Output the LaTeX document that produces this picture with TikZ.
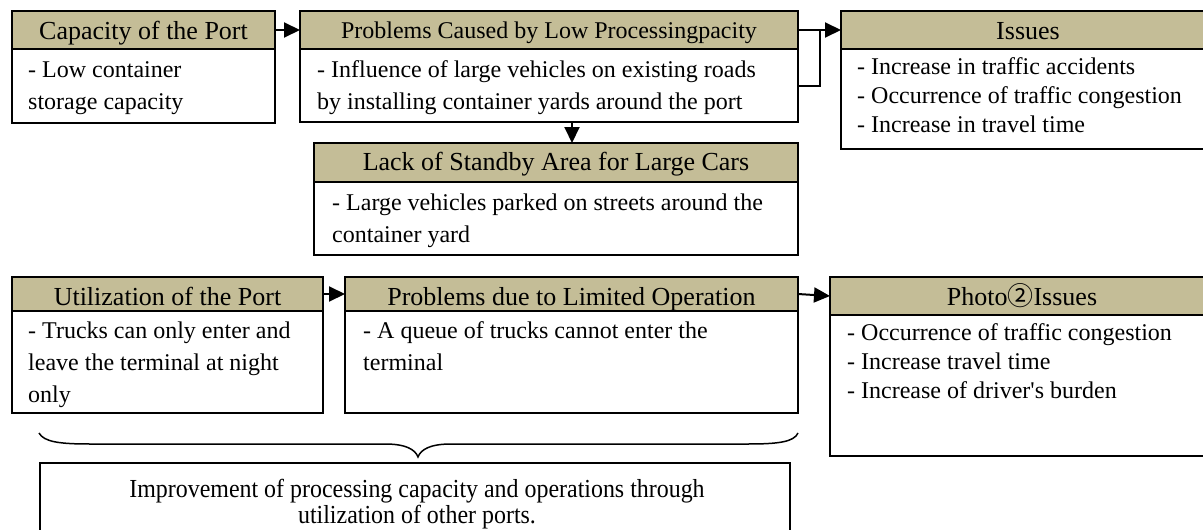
\documentclass[tikz,border=0pt]{standalone}
\usepackage{fontspec}
\setmainfont{Liberation Serif}
\newfontfamily\cjk{Noto Sans CJK JP}
\newfontfamily\condfont[FakeStretch=0.92]{Liberation Serif}
\usetikzlibrary{arrows.meta}
\definecolor{hdrtan}{RGB}{196,189,151}
\tikzset{
  hdrbox/.style={draw=black, line width=2pt, fill=hdrtan, inner sep=0pt, outer sep=0pt, anchor=north west},
  bodybox/.style={draw=black, line width=2pt, fill=white, inner sep=0pt, outer sep=0pt, anchor=north west},
  htext/.style={anchor=base, inner sep=0pt, font=\fontsize{26}{30}\selectfont},
  btext/.style={anchor=north west, inner sep=0pt, align=left, font=\fontsize{24}{32}\selectfont},
  btextt/.style={anchor=north west, inner sep=0pt, align=left, font=\fontsize{24}{29}\selectfont},
  arr/.style={line width=2pt, -{Triangle[length=16pt,width=15pt]}},
  conn/.style={line width=2pt},
  bracestyle/.style={line width=1.5pt},
}
\begin{document}
\begin{tikzpicture}[x=1pt,y=-1pt]
\useasboundingbox (0,0) rectangle (1203,530);
\clip (0,0) rectangle (1203,530);

% Box 1
\node[bodybox, minimum width=263pt, minimum height=74pt] (b1) at (12,49) {};
\node[hdrbox, minimum width=263pt, minimum height=38pt] (h1) at (12,11) {};
\node[htext] (t1) at (143.5,39) {Capacity of the Port};
\node[btext] (x1) at (28,54.6) {\strut- Low container\\storage capacity};

% Box 2
\node[bodybox, minimum width=498pt, minimum height=73pt] (b2) at (300,49) {};
\node[hdrbox, minimum width=498pt, minimum height=38pt] (h2) at (300,11) {};
\node[htext, font=\fontsize{24}{30}\selectfont] (t2) at (549,38) {Problems Caused by Low Processingpacity};
\node[btext] (x2) at (317,54.6) {\strut- Influence of large vehicles on existing roads\\by installing container yards around the port};

% Box 3
\node[bodybox, minimum width=374pt, minimum height=100pt] (b3) at (841,49) {};
\node[hdrbox, minimum width=374pt, minimum height=38pt] (h3) at (841,11) {};
\node[htext] (t3) at (1028,39) {Issues};
\node[btextt] (x3) at (857,53.7) {\strut- Increase in traffic accidents\\- Occurrence of traffic congestion\\- Increase in travel time};

% Box 4
\node[bodybox, minimum width=484pt, minimum height=73pt] (b4) at (314,182) {};
\node[hdrbox, minimum width=484pt, minimum height=39pt] (h4) at (314,143) {};
\node[htext] (t4) at (556,170) {Lack of Standby Area for Large Cars};
\node[btext] (x4) at (332,187.6) {\strut- Large vehicles parked on streets around the\\container yard};

% Box 5
\node[bodybox, minimum width=311pt, minimum height=102pt] (b5) at (12,311) {};
\node[hdrbox, minimum width=311pt, minimum height=34pt] (h5) at (12,277) {};
\node[htext] (t5) at (167.5,305) {Utilization of the Port};
\node[btext] (x5) at (28,315.6) {\strut- Trucks can only enter and\\leave the terminal at night\\only};

% Box 6
\node[bodybox, minimum width=453pt, minimum height=102pt] (b6) at (345,311) {};
\node[hdrbox, minimum width=453pt, minimum height=34pt] (h6) at (345,277) {};
\node[htext] (t6) at (571.5,305) {Problems due to Limited Operation};
\node[btext] (x6) at (363,315.6) {\strut- A queue of trucks cannot enter the\\terminal};

% Box 7
\node[bodybox, minimum width=385pt, minimum height=141pt] (b7) at (830,315) {};
\node[hdrbox, minimum width=385pt, minimum height=38pt] (h7) at (830,277) {};
\node[htext] (t7) at (1022,305) {Photo{\cjk ②}Issues};
\node[btextt] (x7) at (847,319.7) {\strut- Occurrence of traffic congestion\\- Increase travel time\\- Increase of driver\textquotesingle s burden};

% Bottom box
\node[bodybox, minimum width=750pt, minimum height=90pt] (b8) at (40,463) {};
\node[anchor=north, inner sep=0pt, align=center, font=\condfont\fontsize{26}{25}\selectfont] (x8) at (417,478.5) {\strut Improvement of processing capacity and operations through\\utilization of other ports.};

% Brace
\draw[bracestyle] (39,433) .. controls (44,442) and (60,444) .. (90,444) -- (385,444)
  .. controls (405,444) and (415,449) .. (418,457)
  .. controls (421,449) and (431,444) .. (451,444) -- (748,444)
  .. controls (778,444) and (794,442) .. (798,433);

% Connectors
\coordinate (j) at (820,30);
\coordinate (ax) at (572,0);
\draw[arr] (h1.east) -- (h2.west);
\draw[arr] (h2.east) -- (h3.west);
\draw[conn] (b2.east) -| (j);
\draw[arr] (b2.south -| ax) -- (h4.north -| ax);
\draw[arr] (h5.east) -- (h6.west);
\draw[arr] (h6.east) -- (h7.west);
\end{tikzpicture}
\end{document}
